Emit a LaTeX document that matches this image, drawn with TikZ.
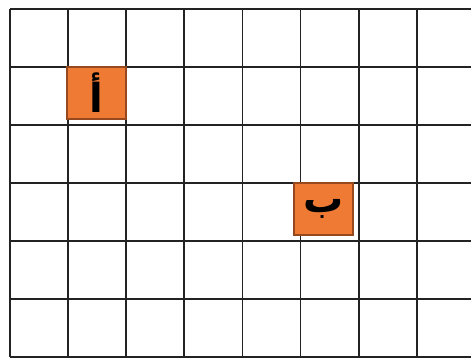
\documentclass[tikz,border=0pt]{standalone}
\usepackage{fontspec}
\newfontfamily\arabicfont[Script=Arabic]{DejaVu Sans}
\TeXXeTstate=1
\definecolor{cellorange}{RGB}{238,122,52}
\definecolor{celledge}{RGB}{150,72,30}
\definecolor{gridgray}{RGB}{35,35,35}
\usetikzlibrary{positioning}

\begin{document}
\begin{tikzpicture}[x=1pt,y=-1pt,
  gridline/.style={gridgray,line width=1.8pt},
  cell/.style={draw=celledge,fill=cellorange,line width=1.2pt,minimum width=59pt,minimum height=52pt,inner sep=0pt,font=\arabicfont\bfseries\fontsize{40}{42}\selectfont}]
  \useasboundingbox (0,0) rectangle (471,360);
  % grid
  \begin{scope}
    \clip (0,0) rectangle (471,360);
    \foreach \i in {0,...,8} \draw[gridline] (10+58.1*\i,9) -- (10+58.1*\i,357);
    \foreach \j in {0,...,6} \draw[gridline] (10,9+58*\j) -- (471,9+58*\j);
  \end{scope}
  \node[cell] (alef) at (96.5,93) {\beginR أ\endR};
  \node[cell] (beh) at (323.5,209) {\beginR ب\endR};
\end{tikzpicture}
\end{document}
